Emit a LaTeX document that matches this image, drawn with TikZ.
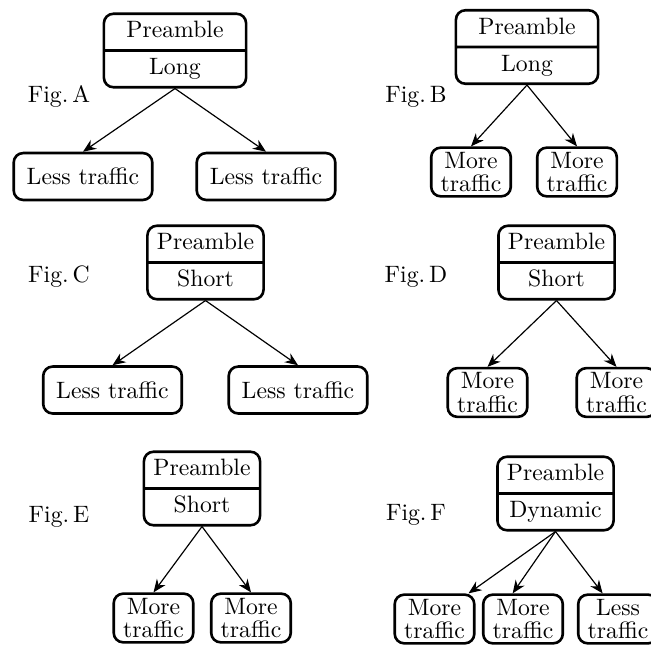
\documentclass[tikz,border=0pt]{standalone}
\usetikzlibrary{shapes.multipart,arrows.meta}
\begin{document}
\begin{tikzpicture}[x=0.422pt,y=-0.422pt,
  parentbox/.style={rectangle split, rectangle split parts=2, draw, line width=1.1pt,
    rounded corners=4pt, align=center, inner xsep=4pt, inner ysep=1.2pt,
    execute at begin node=\strut},
  widebox/.style={parentbox, minimum width=60pt},
  lessbox/.style={draw, line width=1.1pt, rounded corners=4pt, inner xsep=5.5pt,
    minimum height=19.8pt},
  morebox/.style={draw, line width=1.1pt, rounded corners=4pt, align=center,
    inner xsep=4pt, inner ysep=1.8pt, font={\fontsize{10}{10}\selectfont}},
  figlabel/.style={inner sep=0pt},
  conn/.style={-{Stealth[length=5.5pt,width=4.5pt]}, line width=0.5pt}]
\useasboundingbox (0,0) rectangle (651,644);
\clip (0,0) rectangle (651,644);

% Fig. A
\node[widebox] (pa) at (175,50.5) {Preamble\nodepart{two}\strut Long};
\node[figlabel] (la) at (59,96) {Fig.\,A};
\node[lessbox] (a1) at (83,176.5) {Less traffic};
\node[lessbox] (a2) at (266,176.5) {Less traffic};
\draw[conn] (pa.south) -- (a1.north);
\draw[conn] (pa.south) -- (a2.north);

% Fig. B
\node[widebox] (pb) at (527,47) {Preamble\nodepart{two}\strut Long};
\node[figlabel] (lb) at (416,97) {Fig.\,B};
\node[morebox] (b1) at (471,172) {More\\traffic};
\node[morebox] (b2) at (577,172) {More\\traffic};
\draw[conn] (pb.south) -- (b1.north);
\draw[conn] (pb.south) -- (b2.north);

% Fig. C
\node[parentbox] (pc) at (205.5,262.5) {Preamble\nodepart{two}\strut Short};
\node[figlabel] (lc) at (59,277) {Fig.\,C};
\node[lessbox] (c1) at (112.5,390) {Less traffic};
\node[lessbox] (c2) at (298,390) {Less traffic};
\draw[conn] (pc.south) -- (c1.north);
\draw[conn] (pc.south) -- (c2.north);

% Fig. D
\node[parentbox] (pd) at (556.5,262.5) {Preamble\nodepart{two}\strut Short};
\node[figlabel] (ld) at (416,277) {Fig.\,D};
\node[morebox] (d1) at (487.5,392.5) {More\\traffic};
\node[morebox] (d2) at (616.5,392.5) {More\\traffic};
\draw[conn] (pd.south) -- (d1.north);
\draw[conn] (pd.south) -- (d2.north);

% Fig. E
\node[parentbox] (pe) at (202,488.5) {Preamble\nodepart{two}\strut Short};
\node[figlabel] (le) at (59,517) {Fig.\,E};
\node[morebox] (e1) at (153.5,618) {More\\traffic};
\node[morebox] (e2) at (251,618) {More\\traffic};
\draw[conn] (pe.south) -- (e1.north);
\draw[conn] (pe.south) -- (e2.north);

% Fig. F
\node[parentbox] (pf) at (555.5,493.5) {Preamble\nodepart{two}\strut Dynamic};
\node[figlabel] (lf) at (416,515) {Fig.\,F};
\node[morebox] (f1) at (434.5,619) {More\\traffic};
\node[morebox] (f2) at (523,619) {More\\traffic};
\node[morebox] (f3) at (618,619) {Less\\traffic};
\draw[conn] (pf.south) -- (f1.37);
\draw[conn] (pf.south) -- (f2.112);
\draw[conn] (pf.south) -- (f3.121);
\end{tikzpicture}
\end{document}
